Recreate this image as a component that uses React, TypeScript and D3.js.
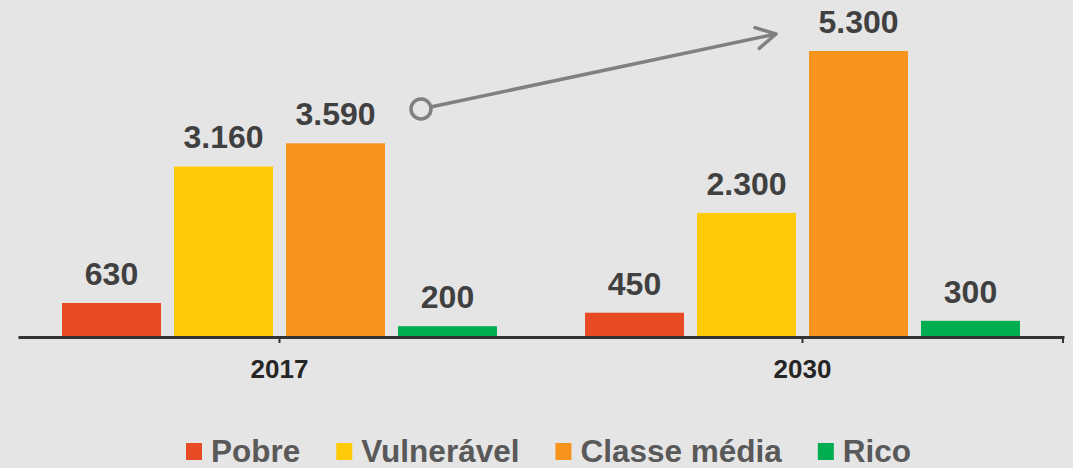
import React, { useEffect, useRef } from "react";
import * as d3 from "d3";

// chart data
const years = ["2017", "2030"];
const classes = ["Pobre", "Vulnerável", "Classe média", "Rico"];
const colors = ["#e74a25", "#ffca0a", "#f7941e", "#00ad50"];
const values2017 = [630, 3160, 3590, 200];
const values2030 = [450, 2300, 5300, 300];
const valuesByYear = [values2017, values2030];

const fmt = (v: number) => d3.format(",")(v).replace(/,/g, ".");

export default function App() {
    const svgRef = useRef<SVGSVGElement | null>(null);

    useEffect(() => {
        document.body.style.margin = "0";
        const width = 1073;
        const height = 468;
        const baseY = 337;

        const svg = d3.select(svgRef.current);
        svg.selectAll("*").remove();
        svg.attr("width", width).attr("height", height);

        svg.append("rect")
            .attr("width", width)
            .attr("height", height)
            .attr("fill", "#e5e5e5");

        //outer scale for the years, inner scale for the classes
        const x0 = d3.scaleBand().domain(years).range([18, 1064]);
        const x1 = d3.scaleBand()
            .domain(classes)
            .range([0, x0.bandwidth()])
            .paddingInner(0.116)
            .paddingOuter(0.393);

        const maxVal = d3.max(valuesByYear.flat()) as number;
        const y = d3.scaleLinear().domain([0, maxVal]).range([baseY, 51]);

        const font = "'Liberation Sans', Arial, Helvetica, sans-serif";

        years.forEach((yr, i) => {
            const g = svg.append("g").attr("transform", `translate(${x0(yr)},0)`);
            const rows = classes.map((c, j) => ({ c, v: valuesByYear[i][j], color: colors[j] }));

            g.selectAll("rect")
                .data(rows)
                .join("rect")
                .attr("x", (d) => x1(d.c) as number)
                .attr("y", (d) => y(d.v))
                .attr("width", x1.bandwidth())
                .attr("height", (d) => baseY - y(d.v))
                .attr("fill", (d) => d.color);

            g.selectAll("text")
                .data(rows)
                .join("text")
                .attr("x", (d) => (x1(d.c) as number) + x1.bandwidth() / 2)
                .attr("y", (d) => y(d.v) - 18)
                .attr("text-anchor", "middle")
                .attr("font-family", font)
                .attr("font-weight", "bold")
                .attr("font-size", 32)
                .attr("fill", "#404040")
                .text((d) => fmt(d.v));
        });

        //x axis
        const axis = svg.append("g")
            .attr("transform", `translate(0,${baseY})`)
            .call(d3.axisBottom(x0).tickSize(6).tickSizeOuter(0));
        axis.select(".domain").attr("stroke", "#333").attr("stroke-width", 3);
        axis.selectAll(".tick line").attr("stroke", "#333").attr("stroke-width", 2);
        axis.selectAll(".tick text")
            .attr("y", 41)
            .attr("dy", 0)
            .attr("font-family", font)
            .attr("font-weight", "bold")
            .attr("font-size", 26)
            .attr("fill", "#262626");
        axis.append("line")
            .attr("x1", x0.range()[1] - 1)
            .attr("x2", x0.range()[1] - 1)
            .attr("y1", 0)
            .attr("y2", 6)
            .attr("stroke", "#333")
            .attr("stroke-width", 2);

        //growth arrow from 2017 to 2030 middle class
        const ax = 421, ay = 109, bx = 776, by = 34;
        const arrow = svg.append("g").attr("stroke", "#808080").attr("fill", "none").attr("stroke-width", 3.5);
        const ang = Math.atan2(by - ay, bx - ax);
        arrow.append("line")
            .attr("x1", ax + 11 * Math.cos(ang))
            .attr("y1", ay + 11 * Math.sin(ang))
            .attr("x2", bx)
            .attr("y2", by);
        arrow.append("circle").attr("cx", ax).attr("cy", ay).attr("r", 10);
        const headLen = 22, spread = 0.5;
        arrow.append("path")
            .attr("stroke-linecap", "round")
            .attr("stroke-linejoin", "round")
            .attr("d", d3.line()([
                [bx - headLen * Math.cos(ang - spread), by - headLen * Math.sin(ang - spread)],
                [bx, by],
                [bx - headLen * Math.cos(ang + spread), by - headLen * Math.sin(ang + spread)],
            ]));

        //legend
        const legend = svg.append("g");
        let lx = 186;
        classes.forEach((c, j) => {
            legend.append("rect")
                .attr("x", lx)
                .attr("y", 443)
                .attr("width", 16)
                .attr("height", 17)
                .attr("fill", colors[j]);
            const t = legend.append("text")
                .attr("x", lx + 25)
                .attr("y", 462)
                .attr("font-family", font)
                .attr("font-weight", "bold")
                .attr("font-size", 31.5)
                .attr("fill", "#595959")
                .text(c);
            const w = (t.node() as SVGTextElement).getComputedTextLength();
            lx = lx + 25 + w + 36;
        });
    }, []);

    return (
        <div>
            {/* chart */}
            <svg ref={svgRef} style={{ display: "block" }}></svg>
        </div>
    );
}
